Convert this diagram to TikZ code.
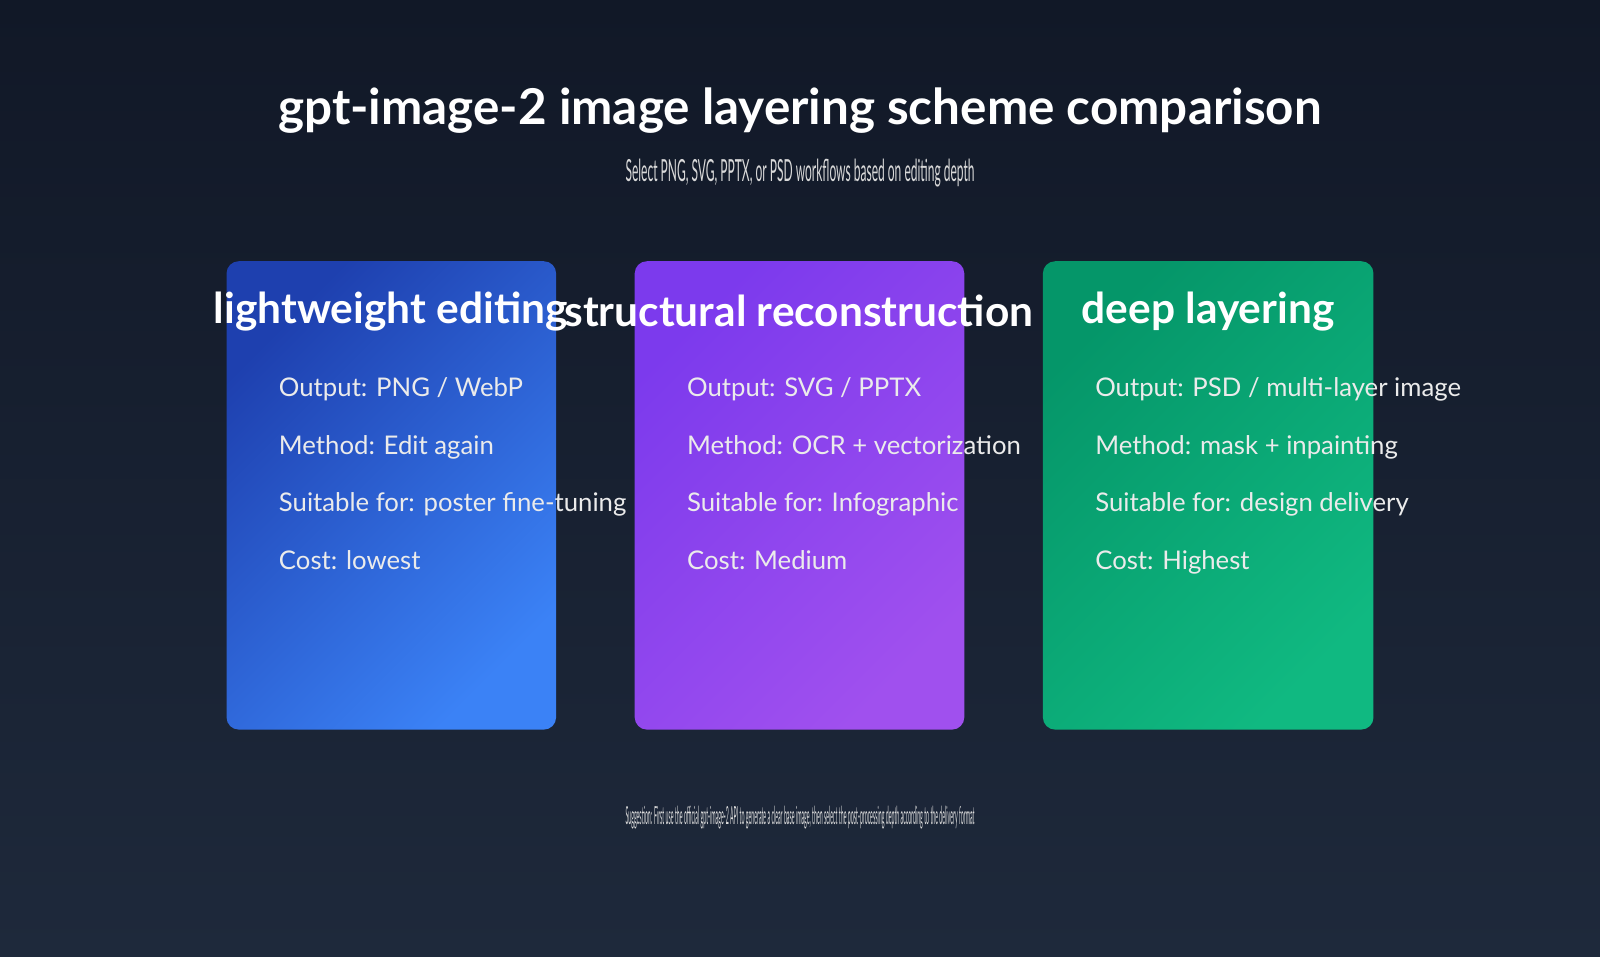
\documentclass[tikz,border=0pt]{standalone}
\usepackage{fontspec}
\setmainfont{Lato}
\usetikzlibrary{positioning}
\definecolor{bgtop}{HTML}{111827}
\definecolor{bgbot}{HTML}{1E293B}
\definecolor{blueA}{HTML}{1E40AF}
\definecolor{blueB}{HTML}{3B82F6}
\definecolor{purpA}{HTML}{7C3AED}
\definecolor{purpB}{HTML}{A050EE}
\definecolor{grnA}{HTML}{059669}
\definecolor{grnB}{HTML}{10B981}
\tikzset{
  card/.style={rounded corners=6pt},
  cardtitle/.style={text=white,font=\bfseries\fontsize{20.8}{23}\selectfont,inner sep=0pt},
  item/.style={text=white!92!black,font=\fontsize{12.6}{15}\selectfont,anchor=west,
    inner sep=0pt,text height=10pt,text depth=3pt}
}
\begin{document}
\begin{tikzpicture}[x=0.5pt,y=-0.5pt]
\useasboundingbox (0,0) rectangle (1568,937);
\shade[top color=bgtop,bottom color=bgbot] (0,0) rectangle (1568,937);

% title
\node[text=white,font=\bfseries\fontsize{24.2}{27}\selectfont,inner sep=0pt] (title) at (784,108) {gpt-image-2 image layering scheme comparison};
\node[text=white!85!black,inner sep=0pt] (sub) at (784,170)
  {\resizebox{171pt}{11pt}{Select PNG, SVG, PPTX, or PSD workflows based on editing depth}};

% cards
\shade[card,left color=blueA,right color=blueB,shading angle=45] (222,256) rectangle (545,715);
\shade[card,left color=purpA,right color=purpB,shading angle=45] (622,256) rectangle (945,715);
\shade[card,left color=grnA,right color=grnB,shading angle=45] (1022,256) rectangle (1346,715);

\node[cardtitle] (t1) at (383,305) {lightweight editing};
\node[cardtitle] (t2) at (783,305) {structural reconstruction};
\node[cardtitle] (t3) at (1184,305) {deep layering};

% items
\node[item] (a1) at (273,382) {Output: PNG / WebP};
\node[item] (a2) at (273,438) {Method: Edit again};
\node[item] (a3) at (273,494) {Suitable for: poster fine-tuning};
\node[item] (a4) at (273,551) {Cost: lowest};

\node[item] (b1) at (673,382) {Output: SVG / PPTX};
\node[item] (b2) at (673,438) {Method: OCR + vectorization};
\node[item] (b3) at (673,494) {Suitable for: Infographic};
\node[item] (b4) at (673,551) {Cost: Medium};

\node[item] (c1) at (1073,382) {Output: PSD / multi-layer image};
\node[item] (c2) at (1073,438) {Method: mask + inpainting};
\node[item] (c3) at (1073,494) {Suitable for: design delivery};
\node[item] (c4) at (1073,551) {Cost: Highest};

% footer
\node[text=white!85!black,inner sep=0pt] (foot) at (784,801)
  {\resizebox{171pt}{9pt}{Suggestion: First use the official gpt-image-2 API to generate a clear base image, then select the post-processing depth according to the delivery format}};
\end{tikzpicture}
\end{document}
